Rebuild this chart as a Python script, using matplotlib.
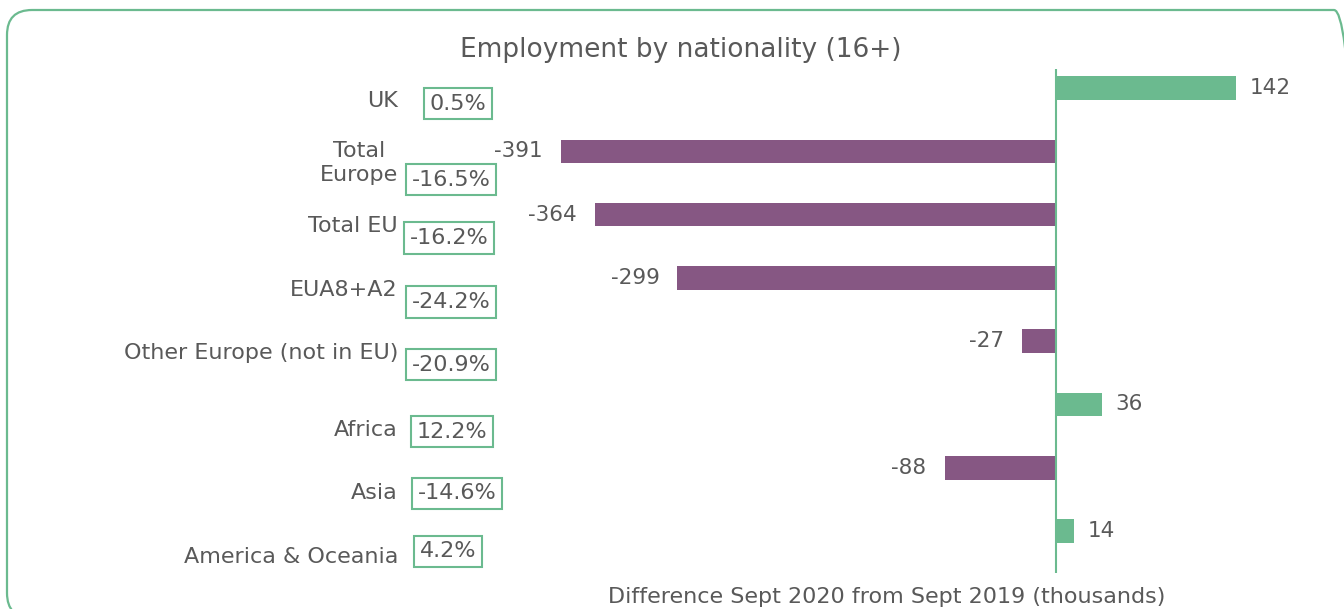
import matplotlib
matplotlib.use("Agg")
import matplotlib.pyplot as plt
from matplotlib.patches import FancyBboxPatch
from matplotlib.transforms import blended_transform_factory, Affine2D

# Employment change by nationality, Sept 2020 vs Sept 2019
categories = ["UK", "Total\nEurope", "Total EU", "EUA8+A2", "Other Europe (not in EU)",
              "Africa", "Asia", "America & Oceania"]
change_thousands = [142, -391, -364, -299, -27, 36, -88, 14]
pct_change = ["0.5%", "-16.5%", "-16.2%", "-24.2%", "-20.9%", "12.2%", "-14.6%", "4.2%"]

title = "Employment by nationality (16+)"
x_title = "Difference Sept 2020 from Sept 2019 (thousands)"

GREEN = "#6BBA8F"
PURPLE = "#865783"
TEXT = "#595959"

plt.rcParams["font.family"] = ["DejaVu Sans"]

W, H, DPI = 1344, 609, 100
fig = plt.figure(figsize=(W / DPI, H / DPI), dpi=DPI)
fig.patch.set_facecolor("white")

# plot area in pixels: zero line at x=1056, ~1.266 px per thousand
ax_left, ax_right = 520, 1310
ax_top, ax_bottom = 69, 573
ax = fig.add_axes([ax_left / W, (H - ax_bottom) / H,
                   (ax_right - ax_left) / W, (ax_bottom - ax_top) / H])

zero_px, px_per_unit = 1056, 1.266
ax.set_xlim(-(zero_px - ax_left) / px_per_unit, (ax_right - zero_px) / px_per_unit)

ypos = list(range(len(categories)))
ax.set_ylim(7.662, -0.3)

colors = [GREEN if v >= 0 else PURPLE for v in change_thousands]
ax.barh(ypos, change_thousands, height=0.37, color=colors, zorder=2)

ax.axvline(0, color=GREEN, lw=1.5, zorder=3)

for y, v in zip(ypos, change_thousands):
    off = 10 if v >= 0 else -13
    ax.annotate(f"{v}", xy=(v, y), xytext=(off, 0), textcoords="offset points",
                ha="left" if v >= 0 else "right", va="center",
                fontsize=15.5, color=TEXT)

for s in ax.spines.values():
    s.set_visible(False)
ax.set_xticks([])
ax.set_yticks([])
ax.patch.set_alpha(0)

# category names and percentage-change boxes to the left of the plot
label_dy = [0.2, 0.185, 0.18, 0.19, 0.19, 0.40, 0.40, 0.41]
box_dy = [0.25, 0.45, 0.37, 0.38, 0.37, 0.43, 0.40, 0.32]
box_cx = [458, 451, 449, 451, 451, 452, 457, 448]

tr = blended_transform_factory(fig.transFigure, ax.transData)
for y, name, pct, ldy, bdy, bx in zip(ypos, categories, pct_change, label_dy, box_dy, box_cx):
    ax.text(398 / W, y + ldy, name, transform=tr, ha="right", va="center",
            multialignment="center", fontsize=16, color=TEXT, linespacing=1.25,
            clip_on=False)
    ax.text(bx / W, y + bdy, pct, transform=tr, ha="center", va="center",
            fontsize=16, color=TEXT, clip_on=False,
            bbox=dict(boxstyle="square,pad=0.25", fc="white", ec=GREEN, lw=1.5))

fig.text(681 / W, 1 - 50 / H, title, ha="center", va="center", fontsize=19, color=TEXT)
fig.text(887 / W, 1 - 597 / H, x_title, ha="center", va="center", fontsize=16, color=TEXT)

# rounded outer frame (pixel units, runs past the right and bottom edges)
px = Affine2D().scale(1 / DPI) + fig.dpi_scale_trans
frame = FancyBboxPatch((7, H - 618), 1352, 608,
                       boxstyle="round,pad=0,rounding_size=25",
                       transform=px, fc="none", ec=GREEN, lw=1.6, zorder=0)
fig.patches.append(frame)

fig.savefig("out.png", dpi=DPI, facecolor="white")
